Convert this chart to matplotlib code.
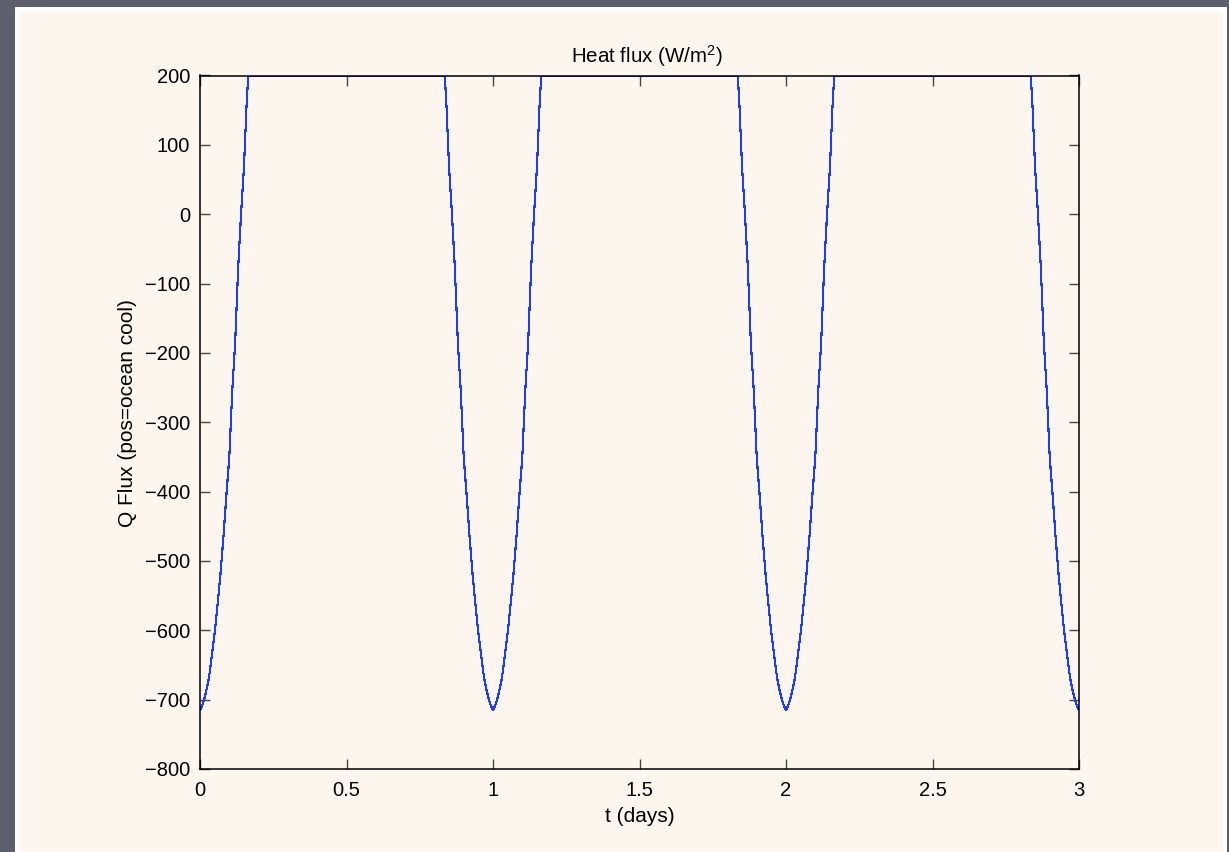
import matplotlib
matplotlib.use("Agg")
import matplotlib.pyplot as plt
from matplotlib.patches import Rectangle
import numpy as np

plt.rcParams['font.family'] = ['Liberation Sans', 'DejaVu Sans']
plt.rcParams['mathtext.fontset'] = 'custom'
plt.rcParams['mathtext.rm'] = 'Liberation Sans'
plt.rcParams['mathtext.default'] = 'regular'

# one night-time dip of the heat flux, offset (days) from local noon
dip_offset = [-0.165, -0.160, -0.150, -0.140, -0.130, -0.120, -0.110, -0.100,
              -0.090, -0.080, -0.070, -0.060, -0.050, -0.040, -0.030, -0.020,
              -0.010, 0.000, 0.010, 0.020, 0.030, 0.040, 0.050, 0.060, 0.070,
              0.080, 0.090, 0.100, 0.110, 0.120, 0.130, 0.140, 0.150, 0.160,
              0.165]
dip_q = [200, 168, 68, 0, -80, -185, -255, -350,
         -405, -465, -518, -563, -604, -638, -670, -690,
         -706, -715, -706, -690, -670, -638, -604, -563, -518,
         -465, -405, -350, -255, -185, -80, 0, 68, 168,
         200]
dip_centres = [0, 1, 2, 3]

x_ticks = [0, 0.5, 1, 1.5, 2, 2.5, 3]
x_ticklabels = ['0', '0.5', '1', '1.5', '2', '2.5', '3']
y_ticks = list(range(-800, 201, 100))

t = []
q = []
for c in dip_centres:
    t += [c + o for o in dip_offset]
    q += dip_q
t = np.array(t)
q = np.array(q)

W, H = 1229, 852
fig = plt.figure(figsize=(W / 100, H / 100), dpi=100)
fig.patch.set_facecolor('#5d606c')

# white mat and cream panel behind the plot
fig.add_artist(Rectangle((15 / W, 0), (1227 - 15) / W, (H - 7) / H,
                         transform=fig.transFigure, facecolor='white',
                         edgecolor='none', zorder=-2))
fig.add_artist(Rectangle((20 / W, 0), (1223 - 20) / W, (H - 12) / H,
                         transform=fig.transFigure, facecolor='#fdf6ef',
                         edgecolor='none', zorder=-1))

ax = fig.add_axes([200 / W, (H - 769) / H, 879 / W, 693.5 / H])
ax.set_zorder(2)
ax.set_facecolor('#fdf6ef')
ax.plot(t, q, color='#1f3dff', lw=0.8, antialiased=False)

ax.set_xlim(0, 3)
ax.set_ylim(-800, 200)
ax.set_xticks(x_ticks)
ax.set_xticklabels(x_ticklabels)
ax.set_yticks(y_ticks)
ax.tick_params(direction='in', length=7, width=1, color='#444444',
               top=True, right=True, labelsize=14.5)
ax.tick_params(axis='x', pad=9)
ax.tick_params(axis='y', pad=7)
for s in ax.spines.values():
    s.set_linewidth(1.1)
    s.set_color('black')

ax.set_title('Heat flux (W/m$^{2}$)', fontsize=14.8, pad=9, x=0.508)
ax.set_xlabel('t (days)', fontsize=15, labelpad=5)
ax.set_ylabel('Q Flux (pos=ocean cool)', fontsize=15)
ax.yaxis.set_label_coords(-0.0717, 0.513)

fig.savefig('out.png', dpi=100, facecolor=fig.get_facecolor())
